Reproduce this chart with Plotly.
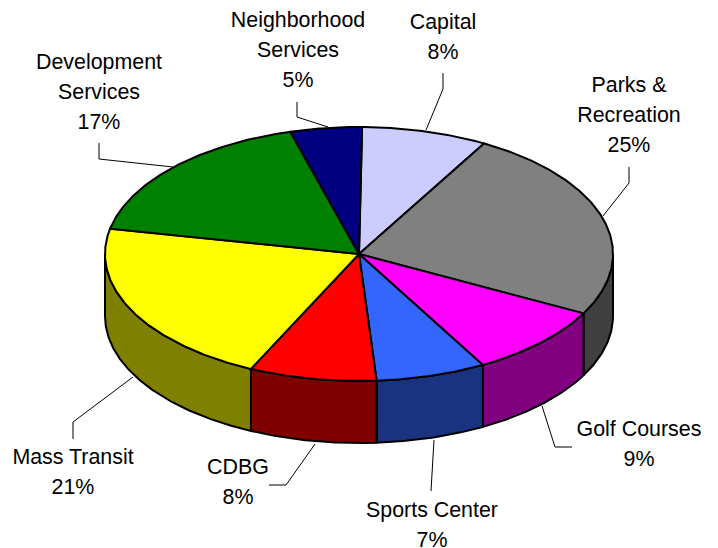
import math
import plotly.graph_objects as go

categories = ["Capital", "Parks & Recreation", "Golf Courses", "Sports Center",
              "CDBG", "Mass Transit", "Development Services", "Neighborhood Services"]
values = [8.0, 24.55, 9.15, 7.0, 8.1, 21.2, 17.45, 4.55]
top_colors = ["#CCCCFF", "#808080", "#FF00FF", "#3366FF", "#FF0000", "#FFFF00", "#008000", "#000080"]
side_colors = ["#666680", "#404040", "#800080", "#1A3380", "#800000", "#808000", "#004000", "#000040"]
label_lines = [["Capital"], ["Parks &", "Recreation"], ["Golf Courses"], ["Sports Center"],
               ["CDBG"], ["Mass Transit"], ["Development", "Services"], ["Neighborhood", "Services"]]
# centre x and first-line centre y of each label, in picture pixels
label_x = [443, 629, 639, 432, 238, 73, 99, 298]
label_y = [24, 87, 431, 512, 469, 459, 64, 22]
LINE_STEP = 30
# leader lines, in picture pixels
leaders = [
    [(443, 73), (443, 89), (426, 130)],
    [(629, 167), (629, 183), (603, 216)],
    [(542, 406), (555, 447), (572, 447)],
    [(434, 440), (431, 491)],
    [(315, 444), (286, 485), (269, 485)],
    [(133, 377), (73, 422), (73, 439)],
    [(99, 143), (99, 159), (173, 167)],
    [(297, 102), (297, 117), (328, 127)],
]
CX, CY, RX, RY, DEPTH = 359, 254, 254, 127, 62
START = 0.7


def rim(t, dy=0):
    r = math.radians(t)
    return CX + RX * math.sin(r), CY - RY * math.cos(r) + dy


def arc(a, b, dy=0):
    n = max(2, int(abs(b - a) * 2))
    return [rim(a + (b - a) * i / n, dy) for i in range(n + 1)]


total = sum(values)
bounds = [START]
for v in values:
    bounds.append(bounds[-1] + v / total * 360)

fig = go.Figure()

# outer wall (visible half, 90 to 270 degrees)
for a, b, col in zip(bounds[:-1], bounds[1:], side_colors):
    lo, hi = max(a, 90), min(b, 270)
    if lo >= hi:
        continue
    pts = arc(lo, hi) + arc(hi, lo, DEPTH)
    pts.append(pts[0])
    fig.add_trace(go.Scatter(x=[p[0] for p in pts], y=[p[1] for p in pts], mode="lines",
                             fill="toself", fillcolor=col, line=dict(color="black", width=2),
                             hoverinfo="skip", showlegend=False))

# top face
for a, b, col in zip(bounds[:-1], bounds[1:], top_colors):
    pts = [(CX, CY)] + arc(a, b) + [(CX, CY)]
    fig.add_trace(go.Scatter(x=[p[0] for p in pts], y=[p[1] for p in pts], mode="lines",
                             fill="toself", fillcolor=col, line=dict(color="black", width=2),
                             hoverinfo="skip", showlegend=False))

# leader lines
for seg in leaders:
    fig.add_trace(go.Scatter(x=[p[0] for p in seg], y=[p[1] for p in seg], mode="lines",
                             line=dict(color="black", width=1), hoverinfo="skip", showlegend=False))

# labels
tx, ty, tt = [], [], []
for lines, v, x, y in zip(label_lines, values, label_x, label_y):
    for i, s in enumerate(lines + [f"{round(v / total * 100)}%"]):
        tx.append(x)
        ty.append(y + i * LINE_STEP)
        tt.append(s)
fig.add_trace(go.Scatter(x=tx, y=ty, text=tt, mode="text", textposition="middle center",
                         textfont=dict(family="Liberation Sans, Arial, sans-serif", size=21.4, color="black"),
                         cliponaxis=False, hoverinfo="skip", showlegend=False))

fig.update_layout(
    width=718, height=548, margin=dict(l=0, r=0, t=0, b=0),
    paper_bgcolor="white", plot_bgcolor="white",
    xaxis=dict(range=[0, 718], visible=False, fixedrange=True),
    yaxis=dict(range=[548, 0], visible=False, fixedrange=True),
)
fig.write_html("out.html", config={"displayModeBar": False},
               post_script="document.body.style.margin='0';")
